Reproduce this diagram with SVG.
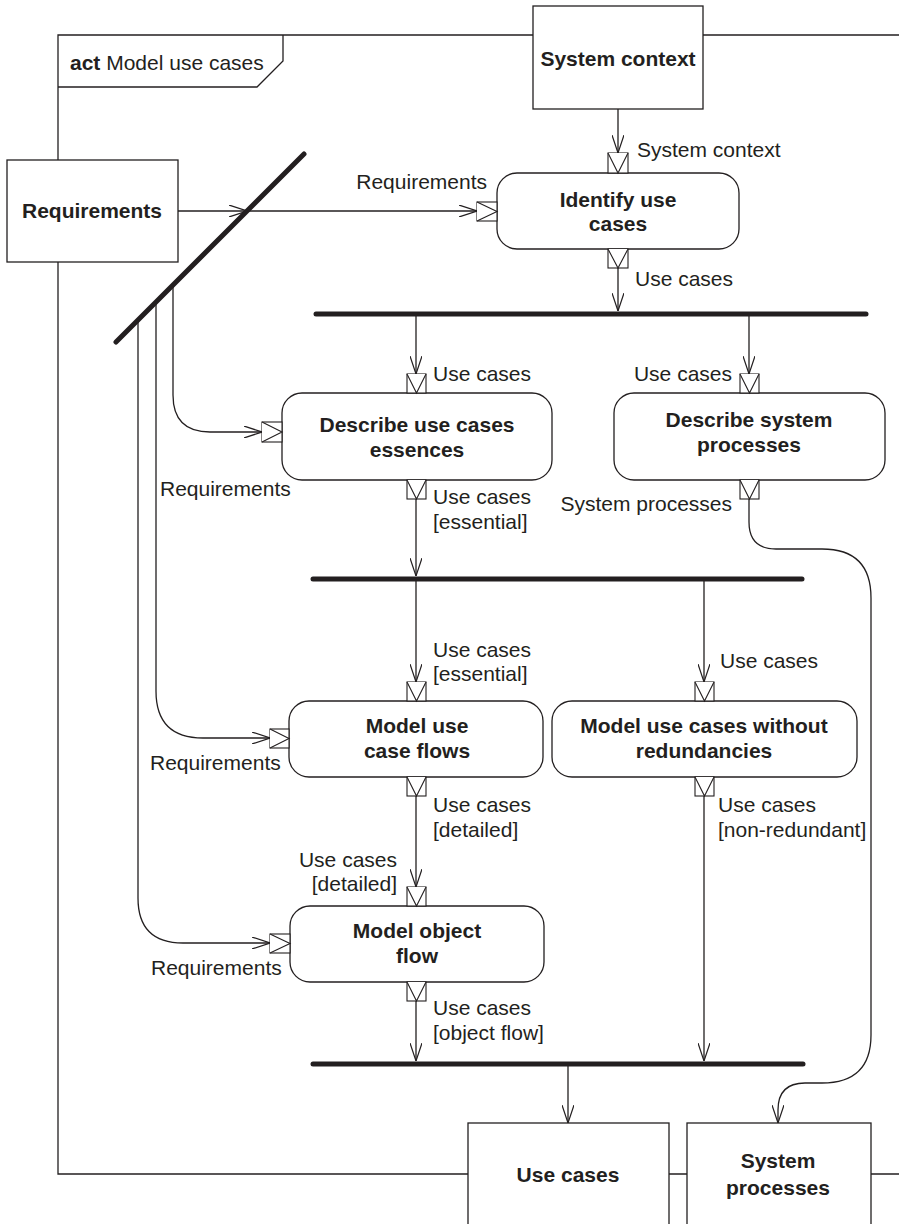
<svg xmlns="http://www.w3.org/2000/svg" width="899" height="1224" viewBox="0 0 899 1224">
<style>
  text { font-family: "Liberation Sans", Arial, sans-serif; font-size: 21px; fill: #231f20; }
  .b { font-weight: bold; }
  .m { text-anchor: middle; }
  .e { text-anchor: end; }
  .box { fill: #fff; stroke: #231f20; stroke-width: 1.3; }
  .act { fill: #fff; stroke: #231f20; stroke-width: 1.3; }
  .pin { fill: #fff; stroke: #231f20; stroke-width: 1.1; }
  .flow { fill: none; stroke: #231f20; stroke-width: 1.3; }
  .bar { stroke: #231f20; stroke-width: 5; stroke-linecap: round; }
  .frame { fill: none; stroke: #231f20; stroke-width: 1.3; }
</style>
<defs>
  <marker id="arr" viewBox="0 0 18 12" markerWidth="18" markerHeight="12" refX="18" refY="6" orient="auto" markerUnits="userSpaceOnUse">
    <path d="M0,0 L18,6 L0,12" fill="none" stroke="#231f20" stroke-width="1.2"/>
  </marker>
</defs>
<rect width="899" height="1224" fill="#fff"/>

<g id="frame">
  <path class="frame" d="M58,160 V35 H533 M703,35 H899 M58,262 V1174 H468 M669,1174 H687 M871,1174 H899"/>
  <path class="frame" d="M58,87 H257 L283,61 V35"/>
  <text x="70" y="70"><tspan class="b">act</tspan> Model use cases</text>
</g>

<g id="connectors">
  <path class="flow" d="M618,109 V153" marker-end="url(#arr)"/>
  <path class="flow" d="M178,211 H247" marker-end="url(#arr)"/>
  <path class="flow" d="M247,211 H477" marker-end="url(#arr)"/>
  <path class="flow" d="M618,268 V311" marker-end="url(#arr)"/>
  <path class="flow" d="M416,314 V374" marker-end="url(#arr)"/>
  <path class="flow" d="M749,314 V374" marker-end="url(#arr)"/>
  <path class="flow" d="M173,285 V395 Q173,432 210,432 H262" marker-end="url(#arr)"/>
  <path class="flow" d="M416,499 V576" marker-end="url(#arr)"/>
  <path class="flow" d="M749,499 V522 Q749,549 776,549 H822 Q871,549 871,598 V1035 Q871,1083 822,1083 H805 Q778,1083 778,1110 V1123" marker-end="url(#arr)"/>
  <path class="flow" d="M416,579 V682" marker-end="url(#arr)"/>
  <path class="flow" d="M704,579 V682" marker-end="url(#arr)"/>
  <path class="flow" d="M156,302 V691 Q156,738 203,738 H270" marker-end="url(#arr)"/>
  <path class="flow" d="M416,796 V887" marker-end="url(#arr)"/>
  <path class="flow" d="M704,796 V1061" marker-end="url(#arr)"/>
  <path class="flow" d="M138,320 V898 Q138,943 183,943 H270" marker-end="url(#arr)"/>
  <path class="flow" d="M416,1001 V1061" marker-end="url(#arr)"/>
  <path class="flow" d="M568,1064 V1123" marker-end="url(#arr)"/>
</g>

<g id="bars">
  <line class="bar" x1="304" y1="154" x2="116" y2="342"/>
  <line class="bar" x1="316" y1="314" x2="866" y2="314"/>
  <line class="bar" x1="313" y1="579" x2="802" y2="579"/>
  <line class="bar" x1="313" y1="1064" x2="803" y2="1064"/>
</g>

<g id="system-context">
  <rect class="box" x="533" y="6" width="170" height="103"/>
  <text class="b m" x="618" y="66">System context</text>
</g>

<g id="requirements">
  <rect class="box" x="7" y="160" width="171" height="102"/>
  <text class="b m" x="92" y="218">Requirements</text>
</g>

<g id="identify-use-cases">
  <rect class="act" x="497" y="173" width="242" height="76" rx="20"/>
  <text class="b m" x="618" y="207">Identify use</text>
  <text class="b m" x="618" y="231">cases</text>
  <rect class="pin" x="608" y="153" width="20" height="20"/>
  <path class="pin" d="M608,153 L618,173 L628,153"/>
  <rect class="pin" x="477" y="202" width="20" height="19"/>
  <path class="pin" d="M477,202 L497,211.5 L477,221"/>
  <rect class="pin" x="608" y="249" width="20" height="19"/>
  <path class="pin" d="M608,249 L618,268 L628,249"/>
  <text class="e" x="487" y="189">Requirements</text>
  <text x="637" y="157">System context</text>
  <text x="635" y="286">Use cases</text>
</g>

<g id="describe-use-cases-essences">
  <rect class="act" x="282" y="393" width="270" height="87" rx="20"/>
  <text class="b m" x="417" y="432">Describe use cases</text>
  <text class="b m" x="417" y="457">essences</text>
  <rect class="pin" x="407" y="374" width="19" height="19"/>
  <path class="pin" d="M407,374 L416.5,393 L426,374"/>
  <rect class="pin" x="262" y="422" width="20" height="20"/>
  <path class="pin" d="M262,422 L282,432 L262,442"/>
  <rect class="pin" x="407" y="480" width="19" height="19"/>
  <path class="pin" d="M407,480 L416.5,499 L426,480"/>
  <text x="433" y="381">Use cases</text>
  <text x="160" y="496">Requirements</text>
  <text x="433" y="504">Use cases</text>
  <text x="433" y="529">[essential]</text>
</g>

<g id="describe-system-processes">
  <rect class="act" x="614" y="393" width="271" height="87" rx="20"/>
  <text class="b m" x="749" y="427">Describe system</text>
  <text class="b m" x="749" y="452">processes</text>
  <rect class="pin" x="740" y="374" width="19" height="19"/>
  <path class="pin" d="M740,374 L749.5,393 L759,374"/>
  <rect class="pin" x="740" y="480" width="19" height="19"/>
  <path class="pin" d="M740,480 L749.5,499 L759,480"/>
  <text class="e" x="732" y="381">Use cases</text>
  <text class="e" x="732" y="511">System processes</text>
</g>

<g id="model-use-case-flows">
  <rect class="act" x="289" y="701" width="254" height="76" rx="20"/>
  <text class="b m" x="417" y="733">Model use</text>
  <text class="b m" x="417" y="758">case flows</text>
  <rect class="pin" x="407" y="682" width="19" height="19"/>
  <path class="pin" d="M407,682 L416.5,701 L426,682"/>
  <rect class="pin" x="270" y="729" width="19" height="19"/>
  <path class="pin" d="M270,729 L289,738.5 L270,748"/>
  <rect class="pin" x="407" y="777" width="19" height="19"/>
  <path class="pin" d="M407,777 L416.5,796 L426,777"/>
  <text x="433" y="657">Use cases</text>
  <text x="433" y="681">[essential]</text>
  <text x="150" y="770">Requirements</text>
  <text x="433" y="812">Use cases</text>
  <text x="433" y="837">[detailed]</text>
</g>

<g id="model-use-cases-without-redundancies">
  <rect class="act" x="552" y="701" width="305" height="76" rx="20"/>
  <text class="b m" x="704" y="733">Model use cases without</text>
  <text class="b m" x="704" y="758">redundancies</text>
  <rect class="pin" x="695" y="682" width="19" height="19"/>
  <path class="pin" d="M695,682 L704.5,701 L714,682"/>
  <rect class="pin" x="695" y="777" width="19" height="19"/>
  <path class="pin" d="M695,777 L704.5,796 L714,777"/>
  <text x="720" y="668">Use cases</text>
  <text x="718" y="812">Use cases</text>
  <text x="718" y="837">[non-redundant]</text>
</g>

<g id="model-object-flow">
  <rect class="act" x="290" y="906" width="254" height="76" rx="20"/>
  <text class="b m" x="417" y="938">Model object</text>
  <text class="b m" x="417" y="963">flow</text>
  <rect class="pin" x="407" y="887" width="19" height="19"/>
  <path class="pin" d="M407,887 L416.5,906 L426,887"/>
  <rect class="pin" x="270" y="934" width="20" height="19"/>
  <path class="pin" d="M270,934 L290,943.5 L270,953"/>
  <rect class="pin" x="407" y="982" width="19" height="19"/>
  <path class="pin" d="M407,982 L416.5,1001 L426,982"/>
  <text class="e" x="397" y="867">Use cases</text>
  <text class="e" x="397" y="891">[detailed]</text>
  <text x="151" y="975">Requirements</text>
  <text x="433" y="1015">Use cases</text>
  <text x="433" y="1040">[object flow]</text>
</g>

<g id="use-cases">
  <rect class="box" x="468" y="1123" width="201" height="120"/>
  <text class="b m" x="568" y="1182">Use cases</text>
</g>

<g id="system-processes">
  <rect class="box" x="687" y="1123" width="184" height="120"/>
  <text class="b m" x="778" y="1168">System</text>
  <text class="b m" x="778" y="1195">processes</text>
</g>
</svg>
